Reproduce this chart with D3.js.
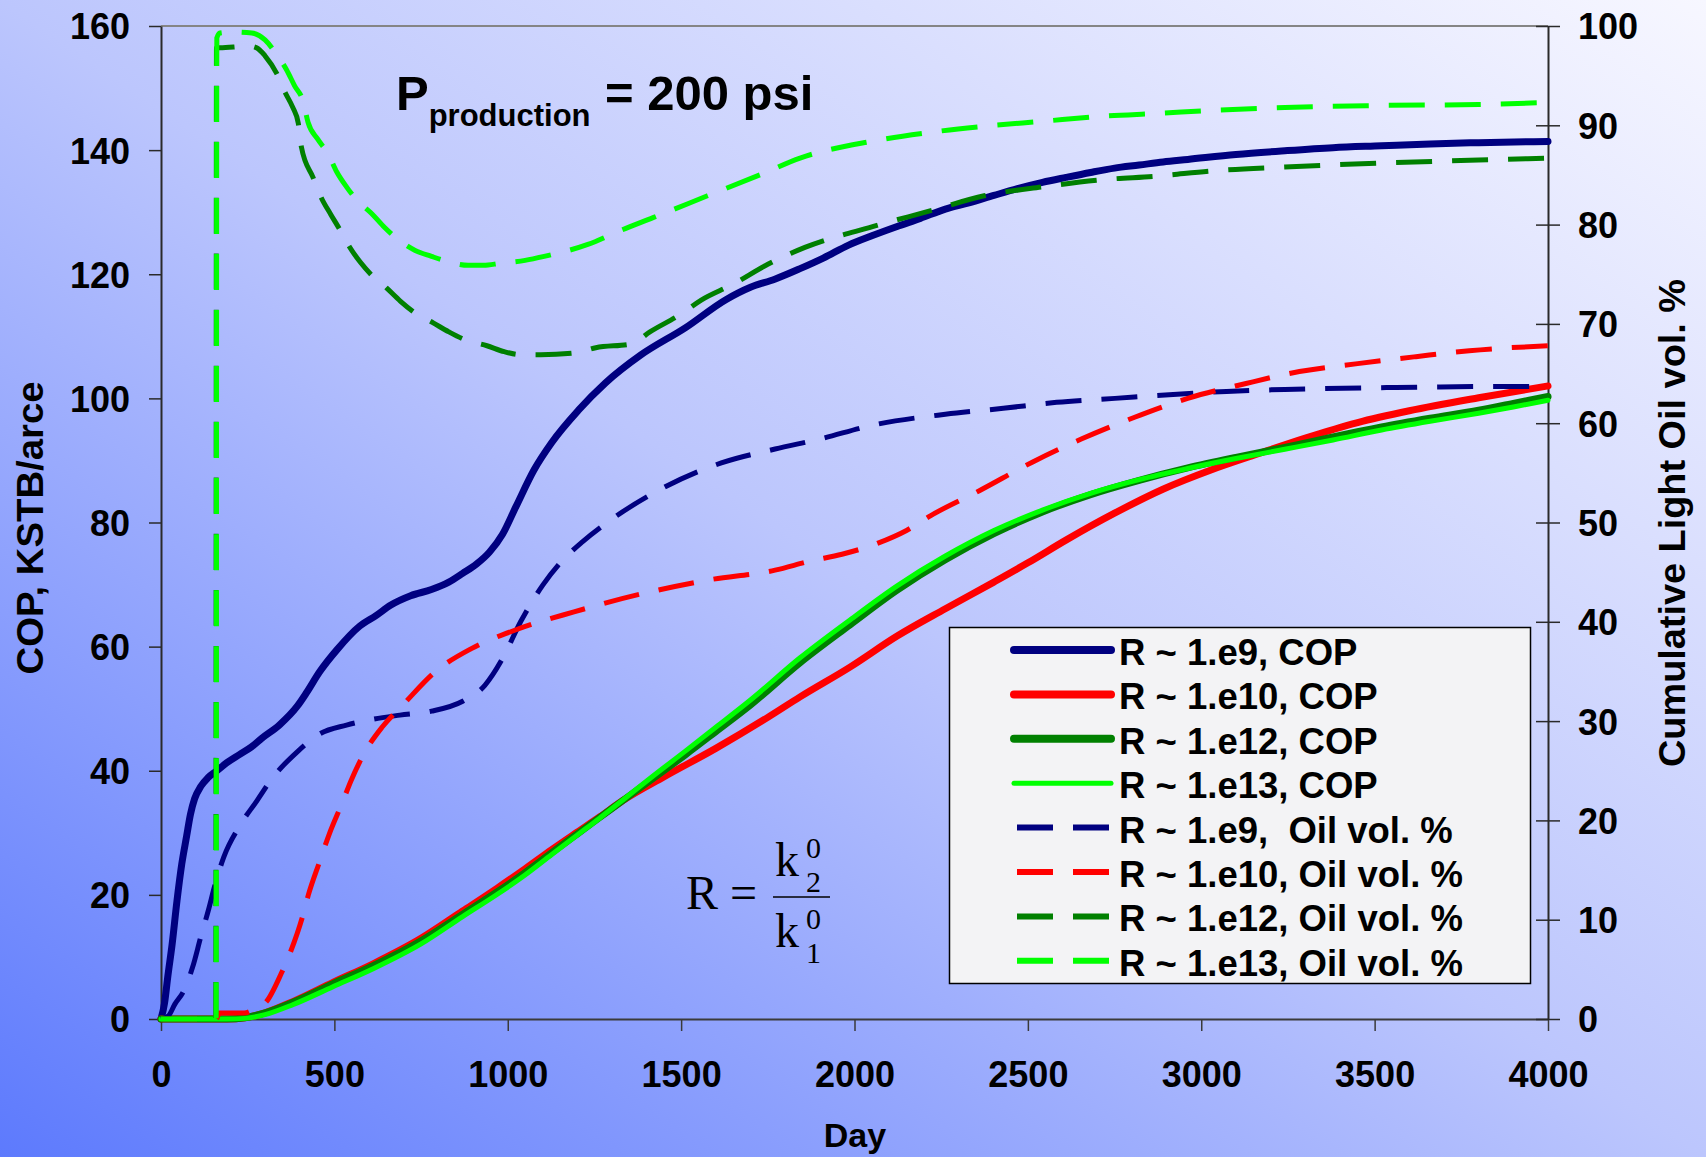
<!DOCTYPE html>
<html>
<head>
<meta charset="utf-8">
<script src="https://cdn.jsdelivr.net/npm/d3@7"></script>
<style>
  html, body { margin: 0; padding: 0; background: #fff; }
  svg text { font-family: "Liberation Sans", Arial, sans-serif; font-weight: bold; fill: #000; }
  svg text.serif { font-family: "Liberation Serif", "Times New Roman", serif; font-weight: normal; }
</style>
</head>
<body>
<svg id="chart" width="1706" height="1157"></svg>
<script>
// ---- Data: cumulative oil production (left axis) and light-oil volume % (right axis) vs day ----
const xTicks = [0, 500, 1000, 1500, 2000, 2500, 3000, 3500, 4000];
const copTicks = [0, 20, 40, 60, 80, 100, 120, 140, 160];
const oilTicks = [0, 10, 20, 30, 40, 50, 60, 70, 80, 90, 100];

// COP, KSTB/acre  [day, value]
const copR9 = [[0,0],[10,2.5],[20,7],[32,12],[46,19],[60,25],[74,29.5],[85,33],[97,35.5],[115,37.5],[136,38.9],[161,40],[190,41.3],[226,42.6],[260,43.8],[290,45.2],[342,47.4],[393,50.4],[420,52.6],[457,55.9],[509,59.6],[573,63.3],[620,65],[663,66.7],[720,68.2],[780,69.2],[830,70.4],[870,71.8],[910,73.3],[947,75.2],[985,78.1],[1024,82.6],[1076,88.5],[1127,92.9],[1204,98.1],[1282,102.5],[1384,107],[1513,111.4],[1629,115.9],[1700,117.9],[1770,119.2],[1843,120.9],[1910,122.6],[1983,124.7],[2050,126.2],[2123,127.7],[2190,129],[2262,130.5],[2330,131.5],[2402,132.7],[2470,133.8],[2542,134.8],[2610,135.6],[2681,136.4],[2750,137.1],[2821,137.6],[2890,138.1],[2961,138.5],[3100,139.3],[3241,139.9],[3380,140.4],[3520,140.7],[3660,141],[3800,141.2],[4000,141.4]];
const copR10 = [[0,0],[190,0],[242,0.2],[300,1],[380,2.8],[496,5.9],[612,8.9],[750,13],[870,17.4],[970,21.1],[1050,24.2],[1127,27.3],[1200,30.1],[1266,32.6],[1332,35.2],[1450,39],[1600,43.6],[1750,48.6],[1843,51.9],[1987,56.7],[2123,61.7],[2262,66.1],[2402,70.4],[2500,73.5],[2611,77.2],[2750,81.5],[2891,85.4],[3030,88.5],[3171,91.2],[3300,93.6],[3451,96.1],[3600,98],[3800,100.1],[4000,102]];
const copR12 = [[0,0],[190,0],[242,0.2],[300,1],[380,2.7],[496,5.7],[612,8.6],[750,12.6],[870,16.9],[970,20.5],[1050,23.6],[1127,26.8],[1200,29.8],[1266,32.5],[1332,35.2],[1420,38.8],[1513,42.6],[1600,46.3],[1700,50.6],[1843,57.4],[1987,63.5],[2123,69.1],[2262,74],[2402,78.2],[2542,81.7],[2681,84.5],[2821,86.8],[2961,88.8],[3100,90.5],[3241,92.1],[3380,93.8],[3520,95.4],[3660,96.8],[3800,98.1],[3900,99.2],[4000,100.3]];
const copR13 = [[0,0],[190,0],[242,0.1],[300,0.7],[380,2.3],[496,5.2],[612,8.1],[750,12.1],[870,16.5],[970,20.1],[1050,23.2],[1127,26.5],[1200,29.6],[1266,32.4],[1332,35.3],[1420,39.2],[1513,43.2],[1600,47],[1700,51.4],[1843,58.2],[1987,64.3],[2123,69.8],[2262,74.6],[2402,78.7],[2542,82],[2681,84.7],[2821,86.9],[2961,88.7],[3100,90.3],[3241,91.8],[3380,93.3],[3520,94.9],[3660,96.3],[3800,97.6],[3900,98.6],[4000,99.7]];

// Cumulative light oil vol. %  [day, value]
const oilR9 = [[0,0],[21,0.3],[40,1.5],[65,2.8],[91,5.2],[115,8.3],[137,11],[154,13.3],[181,16.3],[226,19.4],[277,22],[322,24.3],[393,26.9],[457,28.7],[535,29.6],[612,30.2],[689,30.6],[780,31],[870,32],[934,33.6],[985,36.3],[1037,40],[1101,43.7],[1153,46],[1217,48.1],[1307,50.5],[1449,53.5],[1616,56],[1771,57.4],[1899,58.4],[2052,59.8],[2262,60.9],[2429,61.5],[2583,62.1],[2751,62.5],[2919,62.9],[3073,63.2],[3241,63.4],[3562,63.6],[3898,63.7],[4000,63.7]];
const oilR10 = [[0,0],[160,0],[168,0.6],[240,0.6],[270,1.0],[303,1.7],[347,4.6],[375,6.9],[408,10.3],[425,12.5],[457,15.8],[485,18.6],[523,21.8],[548,24],[590,27],[638,29.4],[702,31.8],[792,35],[895,37.3],[1024,39.2],[1191,41],[1384,42.8],[1577,44.2],[1771,45.2],[1871,46.1],[1964,46.8],[2066,47.9],[2150,49.2],[2220,50.7],[2360,53.2],[2514,56.1],[2654,58.4],[2808,60.6],[2961,62.5],[3129,64],[3283,65.2],[3451,66],[3619,66.7],[3773,67.3],[4000,67.8]];
const oilR12 = [[0,0],[158,0],[160,97.8],[170,97.8],[218,97.9],[250,98],[276,97.8],[300,97],[334,95.2],[358,93.3],[380,91.8],[396,90.2],[405,87.8],[439,84.7],[461,82.8],[490,81],[514,79.6],[543,77.8],[575,76.2],[608,74.9],[651,73.6],[690,72.3],[733,71.1],[785,70.1],[830,69.2],[877,68.4],[940,67.8],[990,67.2],[1037,66.9],[1095,66.9],[1198,67.1],[1254,67.6],[1358,68],[1410,69.2],[1500,71],[1558,72.4],[1650,74],[1750,76],[1857,77.7],[2052,79.8],[2220,81.4],[2374,82.9],[2542,83.8],[2709,84.5],[2877,84.9],[3031,85.4],[3241,85.8],[3520,86.2],[3800,86.5],[4000,86.7]];
const oilR13 = [[0,0],[159,0],[161,98.8],[170,99.3],[208,99.4],[262,99.3],[300,98.6],[334,97.1],[362,95.6],[385,94],[410,92.4],[424,90.3],[452,88.6],[482,87.1],[507,85.3],[535,83.8],[564,82.5],[608,81.1],[645,79.7],[680,78.6],[733,77.4],[780,76.8],[824,76.3],[886,75.9],[930,75.9],[978,76.1],[1050,76.4],[1105,76.8],[1231,78],[1325,79.4],[1419,80.7],[1576,82.9],[1733,85.1],[1843,86.7],[2052,88.4],[2220,89.3],[2374,89.9],[2542,90.4],[2709,90.9],[2877,91.2],[3031,91.5],[3241,91.8],[3520,92],[3800,92.1],[4000,92.3]];

const seriesLabels = ["R ~ 1.e9, COP", "R ~ 1.e10, COP", "R ~ 1.e12, COP", "R ~ 1.e13, COP",
                      "R ~ 1.e9,  Oil vol. %", "R ~ 1.e10, Oil vol. %", "R ~ 1.e12, Oil vol. %", "R ~ 1.e13, Oil vol. %"];
const seriesColors = ["#000080", "#ff0000", "#008000", "#00ff00", "#000080", "#ff0000", "#008000", "#00ff00"];

// ---- Layout ----
const W = 1706, H = 1157;
const plot = { left: 161, right: 1548, top: 26, bottom: 1019 };

const svg = d3.select("#chart");

// background gradient (blue at lower left fading to near white at upper right)
const defs = svg.append("defs");
const grad = defs.append("linearGradient").attr("id", "bgGrad")
  .attr("x1", 0).attr("y1", 1).attr("x2", 1).attr("y2", 0);
grad.append("stop").attr("offset", 0).attr("stop-color", "#5d7afd");
grad.append("stop").attr("offset", 0.5).attr("stop-color", "#bcc6fd");
grad.append("stop").attr("offset", 1).attr("stop-color", "#f7f7ff");
svg.append("rect").attr("width", W).attr("height", H).attr("fill", "url(#bgGrad)");

const x = d3.scaleLinear().domain([0, 4000]).range([plot.left, plot.right]);
const yL = d3.scaleLinear().domain([0, 160]).range([plot.bottom, plot.top]);
const yR = d3.scaleLinear().domain([0, 100]).range([plot.bottom, plot.top]);

// top frame line
svg.append("line").attr("x1", plot.left).attr("x2", plot.right)
  .attr("y1", plot.top).attr("y2", plot.top)
  .attr("stroke", "#858585").attr("stroke-width", 2);

function styleAxis(g, color) {
  g.select(".domain").attr("stroke", color).attr("stroke-width", 2);
  g.selectAll(".tick line").attr("stroke", color).attr("stroke-width", 1.5);
  g.selectAll(".tick text").attr("font-size", 36).attr("fill", "#000");
}

// bottom axis
const gx = svg.append("g").attr("transform", `translate(0,${plot.bottom})`)
  .call(d3.axisBottom(x).tickValues(xTicks).tickFormat(d3.format("d")).tickSize(12).tickSizeOuter(0).tickPadding(30));
styleAxis(gx, "#3a3a3a");

// left axis
const gl = svg.append("g").attr("transform", `translate(${plot.left},0)`)
  .call(d3.axisLeft(yL).tickValues(copTicks).tickFormat(d3.format("d")).tickSize(12).tickSizeOuter(0).tickPadding(19));
styleAxis(gl, "#2a2a2a");
gl.selectAll(".tick text").attr("dy", "0.36em");

// right axis (ticks cross the axis line)
const gr = svg.append("g").attr("transform", `translate(${plot.right},0)`)
  .call(d3.axisRight(yR).tickValues(oilTicks).tickFormat(d3.format("d")).tickSize(12).tickSizeOuter(0).tickPadding(18));
styleAxis(gr, "#2a2a2a");
gr.selectAll(".tick line").attr("x1", -12);
gr.selectAll(".tick text").attr("dy", "0.36em");

// axis titles
svg.append("text").attr("x", 855).attr("y", 1147).attr("text-anchor", "middle")
  .attr("font-size", 34).text("Day");
svg.append("text").attr("transform", "translate(43,528) rotate(-90)").attr("text-anchor", "middle")
  .attr("font-size", 36).attr("textLength", 293).attr("lengthAdjust", "spacingAndGlyphs")
  .text("COP, KSTB/arce");
svg.append("text").attr("transform", "translate(1685,523) rotate(-90)").attr("text-anchor", "middle")
  .attr("font-size", 36).attr("textLength", 488).attr("lengthAdjust", "spacingAndGlyphs")
  .text("Cumulative Light Oil vol. %");

// ---- Curves ----
const lineL = d3.line().x(d => x(d[0])).y(d => yL(d[1])).curve(d3.curveMonotoneX);
const lineR = d3.line().x(d => x(d[0])).y(d => yR(d[1])).curve(d3.curveMonotoneX);

const copSeries = [copR9, copR10, copR12, copR13];
const oilSeries = [oilR9, oilR10, oilR12, oilR13];
const copWidths = [7, 7, 7, 5];

const curves = svg.append("g").attr("fill", "none");
copSeries.forEach((s, i) => {
  curves.append("path").attr("d", lineL(s))
    .attr("stroke", seriesColors[i]).attr("stroke-width", copWidths[i])
    .attr("stroke-linejoin", "round").attr("stroke-linecap", "round");
});
oilSeries.forEach((s, i) => {
  curves.append("path").attr("d", lineR(s))
    .attr("stroke", seriesColors[i + 4]).attr("stroke-width", 5)
    .attr("stroke-dasharray", "36,20");
});

// ---- Annotations ----
const title = svg.append("text").attr("x", 396).attr("y", 110).attr("font-size", 49);
title.append("tspan").text("P");
title.append("tspan").attr("font-size", 31).attr("dy", 16).text("production");
title.append("tspan").attr("x", 605).attr("dy", -16).text("= 200 psi");

// R = k2^0 / k1^0
const f = svg.append("g");
f.append("text").attr("class", "serif").attr("x", 686).attr("y", 909).attr("font-size", 48).text("R =");
f.append("line").attr("x1", 773).attr("x2", 830).attr("y1", 897).attr("y2", 897)
  .attr("stroke", "#000").attr("stroke-width", 1.6);
function kTerm(baseY, sub) {
  f.append("text").attr("class", "serif").attr("x", 775).attr("y", baseY).attr("font-size", 48).text("k");
  f.append("text").attr("class", "serif").attr("x", 806).attr("y", baseY + 16).attr("font-size", 30).text(sub);
  f.append("text").attr("class", "serif").attr("x", 806).attr("y", baseY - 18).attr("font-size", 30).text("0");
}
kTerm(876, "2");
kTerm(947, "1");

// ---- Legend ----
const lg = svg.append("g");
lg.append("rect").attr("x", 949.5).attr("y", 627.5).attr("width", 581).attr("height", 356)
  .attr("fill", "#f3f3f5").attr("stroke", "#000").attr("stroke-width", 1.5);
const legendWidths = [8, 8, 8, 5, 6, 6, 6, 6];
seriesLabels.forEach((label, i) => {
  const cy = 650 + i * 44.4;
  const dashed = i >= 4;
  lg.append("line")
    .attr("x1", dashed ? 1017 : 1014).attr("x2", dashed ? 1109 : 1111)
    .attr("y1", cy).attr("y2", cy)
    .attr("stroke", seriesColors[i]).attr("stroke-width", legendWidths[i])
    .attr("stroke-linecap", dashed ? "butt" : "round")
    .attr("stroke-dasharray", dashed ? "36,20" : null);
  lg.append("text").attr("x", 1119).attr("y", cy + 15).attr("font-size", 36.5)
    .style("white-space", "pre").text(label);
});
</script>
</body>
</html>
